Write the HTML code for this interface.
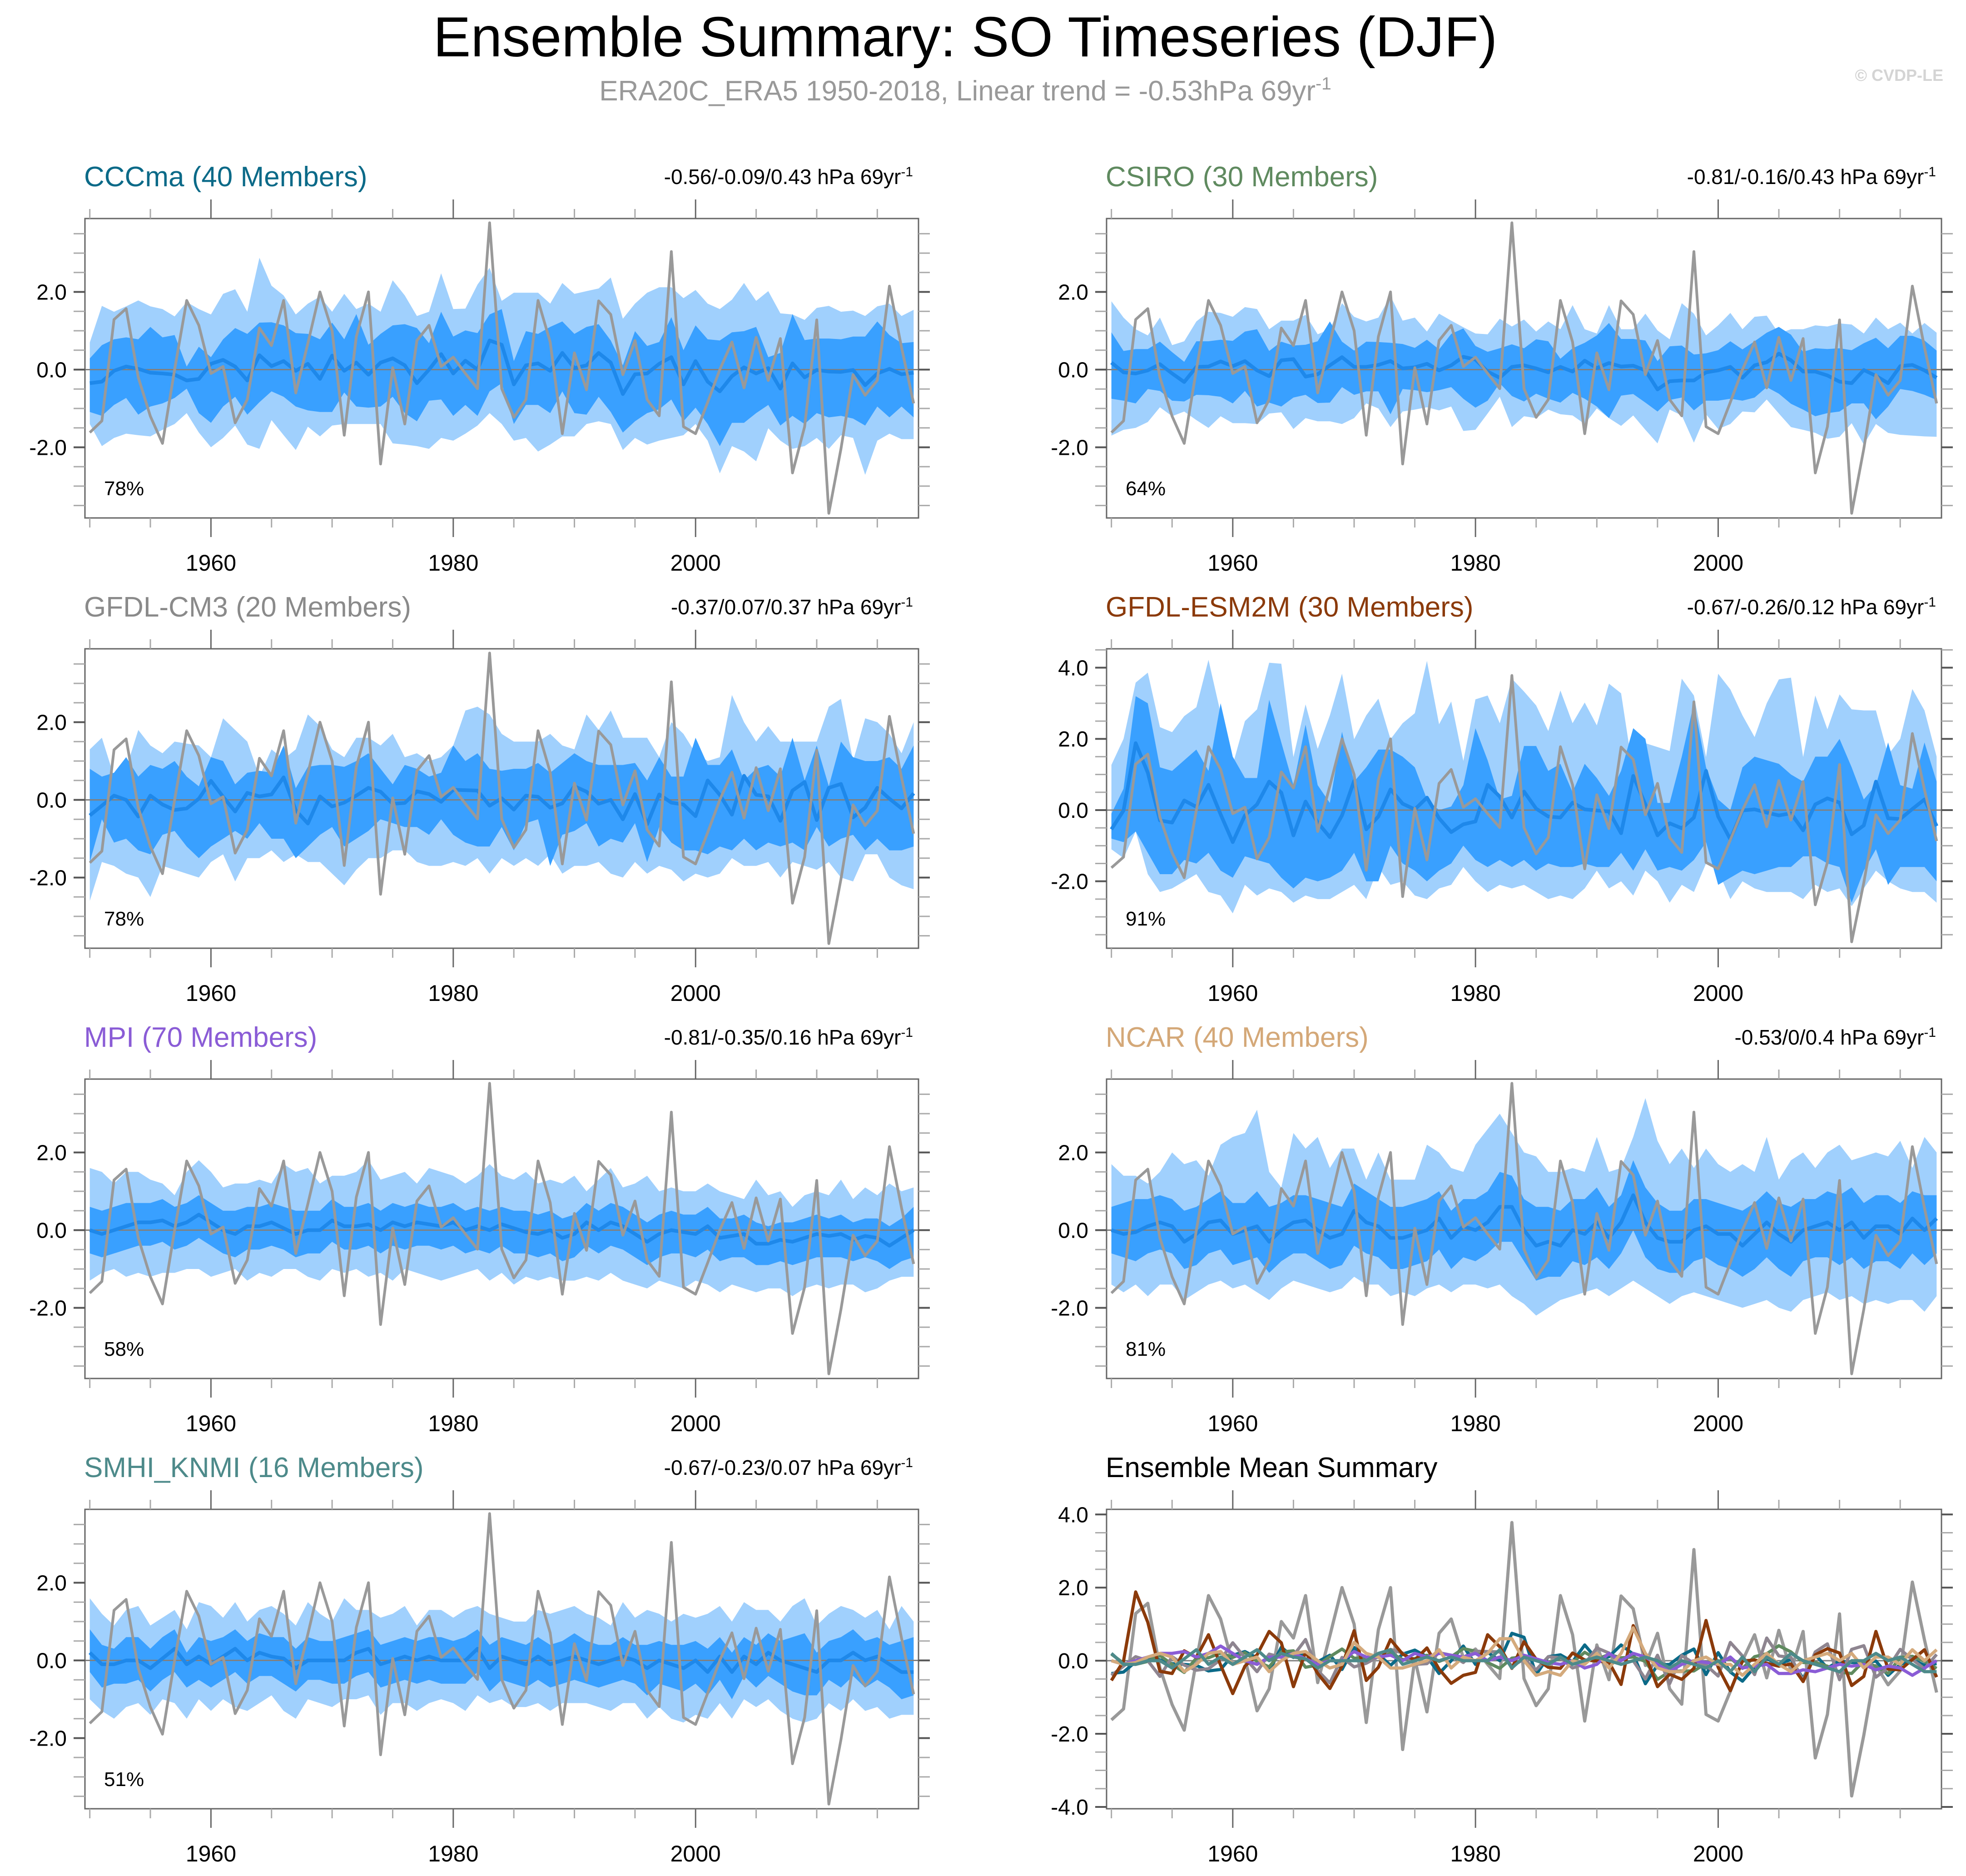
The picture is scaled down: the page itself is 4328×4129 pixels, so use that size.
<!DOCTYPE html>
<html><head><meta charset="utf-8"><style>
html,body{margin:0;padding:0;background:#fff;}
svg{display:block;font-family:"Liberation Sans",sans-serif;}
</style></head><body>
<svg id="chart" width="4328" height="4129" viewBox="0 0 4328 4129" xmlns="http://www.w3.org/2000/svg">
<text x="2125" y="124" font-size="124" text-anchor="middle" fill="#000">Ensemble Summary: SO Timeseries (DJF)</text>
<text x="2125" y="221" font-size="62" text-anchor="middle" fill="#999">ERA20C_ERA5 1950-2018, Linear trend = -0.53hPa 69yr<tspan dy="-24" font-size="39">-1</tspan></text>
<text x="4278" y="178" font-size="36" font-weight="bold" text-anchor="end" fill="#d4d4d4">© CVDP-LE</text>
</svg>
<script>
const years=[];for(let y=1950;y<=2018;y++)years.push(y);
const obs=[-1.62,-1.32,1.29,1.57,-0.2,-1.2,-1.9,0.0,1.78,1.14,-0.1,0.08,-1.37,-0.77,1.07,0.62,1.78,-0.6,0.68,2.0,1.0,-1.69,0.85,2.0,-2.43,0.05,-1.4,0.75,1.14,0.08,0.32,-0.1,-0.49,3.78,-0.49,-1.23,-0.77,1.78,0.71,-1.65,0.43,-0.52,1.77,1.42,-0.13,0.75,-0.77,-1.19,3.04,-1.47,-1.65,-0.84,0.0,0.71,-0.47,0.83,-0.28,0.8,-2.66,-1.47,1.28,-3.7,-2.04,-0.13,-0.66,-0.28,2.15,0.57,-0.87];

const cccMean=[-0.35,-0.31,-0.03,0.08,0.02,-0.08,-0.1,-0.13,-0.28,-0.24,0.15,0.25,0.08,-0.28,0.37,0.09,0.22,-0.03,0.15,-0.24,0.36,-0.03,0.18,-0.13,0.18,0.29,0.11,-0.35,0.0,0.4,-0.1,0.23,0.0,0.75,0.64,-0.38,0.11,0.16,-0.03,0.43,0.04,0.11,0.43,0.18,-0.63,-0.12,-0.1,0.15,0.32,-0.38,0.22,-0.31,-0.56,-0.17,0.06,-0.1,0.04,-0.49,0.16,-0.2,-0.01,-0.05,-0.06,-0.01,-0.4,-0.1,0.02,-0.12,-0.08];
const cccHi2=[0.7,1.64,1.49,1.63,1.78,1.63,1.56,1.37,1.74,1.56,1.42,1.95,2.07,1.49,2.88,2.16,1.91,1.42,1.7,1.88,1.49,1.95,1.56,1.7,1.49,2.3,1.91,1.38,1.49,2.48,1.56,1.57,2.19,2.62,1.77,1.98,1.98,1.98,1.7,2.23,1.95,2.02,2.09,2.37,1.31,1.7,1.98,2.12,2.12,1.84,2.05,1.7,1.56,1.8,2.23,1.77,2.02,1.45,1.42,1.28,1.59,1.64,1.49,1.52,1.38,1.63,1.7,1.38,1.54];
const cccLo2=[-1.4,-1.97,-1.76,-1.65,-1.69,-1.72,-1.55,-1.4,-1.12,-1.62,-2.0,-1.76,-1.44,-1.93,-2.04,-1.3,-1.69,-2.07,-1.47,-1.72,-1.44,-1.4,-1.4,-1.4,-1.4,-1.9,-1.93,-1.97,-2.04,-1.76,-1.83,-1.65,-1.44,-1.12,-1.4,-1.83,-1.76,-2.11,-1.93,-1.72,-1.72,-1.4,-1.33,-1.4,-2.07,-1.76,-1.93,-1.83,-1.76,-1.69,-1.4,-1.83,-2.67,-1.97,-2.11,-2.36,-1.51,-1.83,-2.04,-1.97,-1.76,-2.04,-1.69,-1.76,-2.71,-1.83,-1.65,-1.79,-1.79];
const cccHi1=[0.29,0.63,0.78,0.83,0.78,1.1,0.83,0.89,0.08,0.59,0.32,0.78,1.07,0.92,1.21,1.22,1.14,0.94,0.92,0.78,1.21,0.78,1.43,0.64,0.92,1.14,1.17,1.07,0.68,1.49,0.85,1.01,0.94,1.42,1.56,0.22,0.99,0.92,1.1,1.24,0.92,1.1,1.17,0.75,0.11,0.99,0.61,0.71,1.35,0.5,1.14,0.78,0.75,0.96,0.99,1.1,0.32,0.43,1.43,0.76,0.8,0.8,0.78,0.85,0.85,1.24,0.89,0.68,0.71];
const cccLo1=[-1.09,-1.19,-0.91,-0.73,-1.16,-0.95,-0.87,-0.73,-0.49,-1.12,-1.37,-0.95,-0.7,-1.16,-0.84,-0.56,-0.7,-0.95,-1.05,-1.09,-1.09,-0.59,-0.95,-0.98,-0.95,-0.7,-1.12,-1.33,-0.8,-0.77,-1.19,-0.91,-1.19,-0.56,-0.35,-1.4,-0.91,-0.91,-1.12,-0.56,-1.12,-1.16,-0.7,-1.09,-1.62,-1.33,-1.12,-1.02,-0.77,-1.33,-0.98,-1.4,-1.97,-1.37,-1.37,-1.12,-0.91,-1.44,-1.19,-1.4,-1.12,-1.23,-1.19,-1.26,-1.44,-0.95,-1.23,-0.95,-1.23];

const csiMean=[0.18,-0.07,-0.1,-0.02,0.14,-0.1,-0.32,0.07,0.08,0.21,0.09,0.22,-0.02,-0.17,0.24,0.27,-0.18,-0.12,0.11,0.32,0.07,0.07,0.12,0.22,0.03,0.06,0.15,-0.02,0.11,0.33,0.26,-0.05,-0.21,0.07,0.11,0.03,-0.07,0.07,-0.05,0.23,0.04,0.17,0.08,0.1,-0.02,-0.51,-0.3,-0.28,-0.28,-0.07,-0.02,0.07,-0.21,0.11,0.19,0.41,0.24,-0.05,-0.05,-0.15,-0.31,-0.35,-0.01,-0.16,-0.35,0.09,0.12,-0.02,-0.21];
const csiHi2=[1.76,1.34,1.04,0.88,1.34,0.63,0.73,1.24,1.49,1.46,1.36,1.61,1.56,1.04,1.26,1.26,1.41,0.91,1.04,1.71,1.36,1.24,1.34,1.89,1.26,1.34,0.98,1.44,1.26,1.09,0.93,0.91,1.31,1.11,1.29,0.98,1.24,1.04,1.66,1.04,0.93,1.66,1.04,1.04,1.44,1.01,0.78,1.71,1.44,0.88,1.14,1.46,1.04,1.36,1.39,0.93,1.04,1.04,1.14,1.11,1.19,1.16,0.93,1.34,1.04,1.21,0.93,1.2,0.95];
const csiLo2=[-1.7,-1.55,-1.5,-1.35,-0.97,-1.2,-1.08,-1.3,-1.5,-1.2,-1.38,-1.38,-1.4,-1.13,-1.1,-1.53,-1.25,-1.33,-1.33,-1.4,-1.25,-0.87,-1.0,-1.48,-1.08,-1.03,-0.97,-1.05,-0.95,-1.58,-1.55,-1.13,-0.7,-1.48,-1.2,-1.25,-1.03,-1.15,-1.18,-1.4,-1.0,-1.25,-1.45,-1.18,-1.55,-1.9,-1.03,-1.18,-1.88,-1.15,-1.53,-1.4,-1.08,-1.1,-0.77,-1.13,-1.48,-1.55,-1.63,-1.78,-1.73,-1.38,-1.93,-1.4,-1.63,-1.68,-1.7,-1.72,-1.73];
const csiHi1=[0.96,0.48,0.53,0.53,0.72,0.45,0.2,0.73,0.73,0.77,0.74,0.98,1.04,0.48,0.72,0.62,0.64,0.73,1.24,0.72,0.49,0.72,0.71,0.69,0.66,0.56,0.77,0.52,0.92,1.06,0.61,0.46,0.55,0.65,0.55,0.78,0.73,0.28,0.55,0.69,0.88,1.2,0.79,0.79,0.75,0.22,0.6,0.62,0.39,0.42,0.5,0.73,0.52,0.73,0.95,1.1,0.9,0.46,0.55,0.53,0.55,0.5,0.68,0.82,0.55,0.87,0.87,0.75,0.49];
const csiLo1=[-0.75,-0.8,-0.87,-0.5,-0.55,-0.8,-0.82,-0.65,-0.66,-0.7,-0.87,-0.55,-0.95,-0.85,-0.95,-0.72,-0.65,-0.86,-0.85,-0.45,-0.65,-0.56,-0.56,-1.15,-0.5,-0.53,-0.58,-0.53,-0.45,-0.75,-0.98,-0.8,-0.35,-0.68,-0.82,-0.62,-0.75,-0.85,-0.6,-0.75,-0.95,-1.25,-0.67,-0.63,-0.85,-1.08,-0.78,-0.72,-1.05,-0.8,-0.8,-0.75,-0.8,-0.72,-0.45,-0.62,-0.88,-1.03,-1.2,-1.12,-1.08,-0.87,-0.87,-1.28,-0.95,-0.5,-0.55,-0.65,-0.78];

const cm3Mean=[-0.4,-0.15,0.11,0.0,-0.43,0.11,-0.12,-0.26,-0.22,0.03,0.49,0.08,-0.3,0.18,0.09,0.14,0.58,-0.27,-0.61,0.09,-0.17,-0.07,0.11,0.31,0.21,-0.1,-0.08,0.22,0.15,-0.05,0.26,0.25,0.24,-0.15,0.04,-0.25,0.11,0.08,-0.2,-0.09,0.35,0.21,-0.1,0.0,-0.5,0.15,-0.63,0.14,-0.07,-0.12,-0.42,0.5,0.13,-0.38,0.62,0.13,0.09,-0.54,0.24,0.46,-0.52,0.31,0.41,-0.45,-0.2,0.31,0.03,-0.22,0.17];
const cm3Hi2=[1.3,1.6,0.6,0.8,1.8,1.4,1.2,1.5,1.45,1.4,1.1,2.1,1.8,1.5,0.6,1.3,1.05,1.3,2.2,1.9,1.3,1.1,1.6,1.6,1.4,1.7,1.1,1.2,1.0,1.1,1.4,2.3,2.4,2.2,1.7,1.5,1.5,1.5,1.7,1.4,1.3,2.2,1.8,2.3,1.6,1.6,1.6,1.1,2.0,1.7,1.2,1.0,1.1,2.7,2.0,1.5,1.9,1.5,1.5,1.5,1.5,2.4,2.6,1.0,2.1,2.0,1.7,1.2,2.0];
const cm3Lo2=[-2.6,-1.6,-1.7,-1.9,-2.0,-2.5,-1.7,-1.8,-1.9,-2.0,-1.6,-1.4,-2.1,-1.5,-1.5,-1.3,-1.6,-1.4,-1.6,-1.6,-1.9,-2.2,-1.8,-1.5,-1.5,-1.3,-1.3,-1.6,-1.7,-1.7,-1.6,-1.7,-1.5,-1.9,-1.5,-1.7,-1.5,-1.7,-1.4,-1.9,-1.7,-1.7,-1.6,-1.9,-2.0,-1.6,-1.9,-1.7,-1.8,-2.1,-1.9,-2.0,-1.9,-1.5,-1.7,-1.7,-1.6,-2.0,-1.6,-1.7,-1.8,-1.6,-2.0,-2.1,-1.4,-1.4,-2.0,-2.2,-2.3];
const cm3Hi1=[0.8,0.6,0.7,1.1,0.6,0.9,0.8,1.0,0.6,0.35,1.1,1.0,0.4,0.7,0.75,0.7,1.4,0.3,0.85,0.9,0.9,0.85,1.0,1.2,0.8,0.4,0.9,0.8,0.6,0.7,1.4,1.0,1.2,0.8,0.75,0.8,0.8,0.95,0.7,0.95,1.2,1.0,0.9,0.9,0.9,0.95,0.5,1.1,0.6,0.6,1.6,0.9,0.9,1.3,0.5,0.8,0.9,0.6,1.6,0.5,1.4,0.35,1.5,1.1,1.0,1.0,1.1,0.8,1.4];
const cm3Lo1=[-1.6,-0.5,-1.1,-1.0,-1.3,-1.4,-0.9,-0.8,-1.2,-1.5,-1.2,-1.0,-0.8,-1.0,-0.6,-1.0,-1.0,-1.5,-1.2,-0.9,-0.7,-1.2,-1.0,-0.8,-0.5,-0.6,-0.7,-0.7,-0.9,-0.5,-0.9,-1.1,-1.2,-1.2,-0.7,-1.3,-0.6,-0.5,-1.7,-0.9,-0.8,-0.6,-1.2,-1.0,-1.1,-0.6,-1.6,-0.7,-1.1,-1.3,-1.3,-1.4,-1.2,-1.3,-1.0,-1.3,-1.1,-1.2,-1.1,-1.3,-0.7,-1.2,-1.0,-0.9,-1.3,-1.0,-1.3,-1.3,-1.2];

const esmMean=[-0.54,-0.01,1.88,1.05,-0.29,-0.35,0.27,0.09,0.71,-0.12,-0.9,-0.15,0.16,0.8,0.49,-0.71,0.24,-0.35,-0.76,-0.15,0.82,-0.54,-0.18,0.58,0.18,0.02,0.35,-0.23,-0.62,-0.4,-0.32,0.71,0.38,-0.21,0.52,0.04,-0.18,-0.21,0.21,0.02,-0.01,-0.04,-0.65,0.96,0.16,-0.71,-0.37,-0.51,-0.21,1.1,-0.18,-0.82,-0.01,0.02,-0.07,-0.15,-0.09,-0.57,0.16,0.33,0.21,-0.68,-0.43,0.8,-0.23,-0.25,0.03,0.3,-0.45];
const esmHi2=[1.27,2.0,3.58,3.86,2.33,2.19,2.64,2.89,4.22,2.72,1.27,2.5,2.83,4.14,4.11,1.49,2.97,1.72,2.66,3.83,1.99,2.66,3.13,1.99,2.44,2.72,4.19,2.41,3.05,1.38,3.11,3.22,2.44,3.69,3.33,2.94,2.22,3.36,2.44,3.02,2.38,3.55,3.28,1.05,1.88,1.77,1.66,3.69,3.22,1.49,3.83,3.39,2.66,2.05,3.0,3.67,3.72,1.49,3.22,2.27,3.25,2.83,2.8,2.8,1.55,2.0,3.4,2.8,1.5];
const esmLo2=[-1.1,-1.35,-0.6,-1.8,-2.3,-2.2,-2.0,-1.8,-2.3,-2.4,-2.9,-2.1,-2.4,-2.2,-2.3,-2.6,-2.4,-2.5,-2.5,-2.3,-2.1,-2.5,-1.6,-2.1,-2.0,-2.4,-2.5,-2.2,-2.1,-1.6,-2.0,-2.3,-2.1,-2.2,-2.1,-2.3,-2.5,-2.4,-2.5,-2.2,-1.7,-2.2,-2.0,-2.4,-1.7,-2.0,-2.6,-2.1,-2.3,-1.5,-1.7,-2.5,-2.0,-2.2,-2.3,-2.3,-2.3,-2.5,-2.1,-2.3,-2.2,-2.7,-2.2,-1.7,-2.0,-2.2,-2.3,-2.3,-2.6];
const esmHi1=[-0.1,0.6,3.2,3.0,1.2,1.1,1.4,1.7,1.1,3.0,1.5,0.9,0.9,3.1,1.9,0.7,2.4,0.7,0.2,2.2,0.8,1.2,1.7,1.7,1.5,1.2,0.3,0.0,0.1,0.7,2.3,1.4,0.3,0.4,1.8,1.8,1.1,1.3,0.5,1.3,0.9,0.4,1.1,2.3,2.0,0.2,0.2,1.5,3.0,1.2,0.3,0.0,1.2,1.5,1.4,1.3,1.0,0.8,1.5,1.5,2.0,1.2,0.3,0.7,1.9,0.7,0.6,1.9,0.8];
const esmLo1=[-0.8,-0.9,-0.6,-1.2,-1.8,-1.8,-1.4,-1.5,-1.2,-1.7,-1.9,-1.3,-1.4,-1.5,-1.9,-2.2,-1.9,-2.0,-1.9,-1.7,-1.2,-2.0,-2.0,-1.0,-1.5,-1.7,-2.0,-1.7,-1.5,-1.0,-1.4,-1.6,-1.4,-1.6,-1.4,-1.7,-1.5,-1.6,-1.6,-1.5,-1.6,-1.6,-1.2,-1.7,-1.1,-1.7,-1.6,-1.7,-1.4,-0.9,-2.1,-1.9,-1.7,-1.8,-1.7,-1.6,-1.6,-1.3,-1.3,-1.5,-1.6,-2.6,-1.7,-1.1,-2.1,-1.6,-1.6,-1.6,-2.0];

const mpiMean=[0.0,-0.1,0.0,0.1,0.2,0.2,0.25,0.1,0.2,0.4,0.2,0.0,-0.1,0.1,0.1,0.2,0.05,-0.1,0.0,0.0,0.25,0.1,0.1,0.15,0.0,0.2,0.1,0.2,0.15,0.1,0.2,0.0,0.1,0.0,0.15,0.05,-0.05,-0.1,0.0,-0.2,-0.1,0.2,0.0,0.2,0.1,-0.1,-0.3,-0.1,0.0,-0.05,-0.1,0.1,-0.2,-0.15,-0.1,-0.35,-0.35,-0.25,-0.3,-0.2,-0.1,-0.15,-0.1,-0.25,-0.15,-0.2,-0.4,-0.2,0.0];
const mpiHi2=[1.6,1.5,1.2,1.5,1.5,1.3,1.2,0.9,1.5,1.8,1.5,1.1,1.2,1.2,1.3,1.2,1.7,1.5,1.6,1.2,1.4,1.4,1.5,1.8,1.3,1.4,1.5,1.2,1.6,1.5,1.4,1.2,1.4,1.7,1.4,1.3,1.5,1.2,1.3,1.2,1.4,1.0,1.3,1.6,1.1,1.2,1.4,1.0,1.1,1.0,1.0,1.2,1.0,0.9,0.8,1.3,0.9,1.0,0.6,0.9,1.0,0.9,1.3,0.8,1.1,0.9,1.2,1.0,1.1];
const mpiLo2=[-1.3,-1.1,-1.0,-1.2,-1.1,-1.2,-1.1,-1.1,-1.0,-1.0,-1.2,-1.1,-1.0,-1.3,-1.1,-1.2,-1.0,-1.0,-1.2,-1.3,-1.0,-1.1,-1.0,-1.2,-1.1,-1.3,-1.0,-1.1,-1.2,-1.3,-1.2,-1.1,-1.0,-1.3,-1.1,-1.4,-1.2,-1.3,-1.2,-1.3,-1.3,-1.2,-1.3,-1.1,-1.3,-1.4,-1.5,-1.3,-1.4,-1.5,-1.3,-1.4,-1.6,-1.4,-1.5,-1.6,-1.5,-1.5,-1.7,-1.5,-1.4,-1.5,-1.4,-1.4,-1.6,-1.5,-1.3,-1.2,-1.2];
const mpiHi1=[0.6,0.5,0.6,0.7,0.7,0.7,0.8,0.6,0.7,0.9,0.7,0.5,0.5,0.6,0.6,0.7,0.6,0.5,0.5,0.5,0.8,0.6,0.6,0.7,0.5,0.7,0.6,0.7,0.6,0.6,0.7,0.5,0.6,0.5,0.6,0.5,0.5,0.4,0.5,0.3,0.4,0.7,0.5,0.7,0.6,0.4,0.2,0.4,0.5,0.4,0.4,0.6,0.3,0.3,0.4,0.2,0.1,0.2,0.2,0.3,0.4,0.3,0.4,0.2,0.3,0.3,0.1,0.3,0.6];
const mpiLo1=[-0.6,-0.7,-0.6,-0.5,-0.4,-0.4,-0.3,-0.5,-0.4,-0.2,-0.4,-0.6,-0.7,-0.5,-0.5,-0.4,-0.5,-0.7,-0.6,-0.6,-0.3,-0.5,-0.5,-0.4,-0.6,-0.4,-0.5,-0.4,-0.4,-0.5,-0.4,-0.6,-0.5,-0.6,-0.4,-0.6,-0.6,-0.7,-0.6,-0.8,-0.7,-0.4,-0.6,-0.4,-0.5,-0.7,-0.9,-0.7,-0.6,-0.6,-0.7,-0.5,-0.8,-0.7,-0.7,-0.9,-0.9,-0.8,-0.9,-0.8,-0.7,-0.7,-0.7,-0.8,-0.7,-0.8,-1.0,-0.8,-0.7];

const ncaMean=[0.0,-0.1,-0.05,0.1,0.2,0.1,-0.3,-0.1,0.2,0.25,-0.1,0.0,0.1,-0.3,0.0,0.2,0.25,0.0,-0.2,-0.1,0.5,0.2,0.1,-0.2,-0.2,-0.1,0.0,0.3,-0.2,0.1,0.0,0.2,0.6,0.6,0.0,-0.4,-0.3,-0.4,0.0,-0.1,0.2,-0.2,0.2,0.9,0.2,-0.2,-0.3,-0.3,0.0,0.1,-0.1,-0.1,-0.4,-0.1,0.2,-0.1,-0.3,0.0,0.1,0.2,0.0,0.2,-0.2,0.1,0.1,-0.1,0.3,0.0,0.3];
const ncaHi2=[1.7,1.4,1.4,1.2,1.5,2.0,1.7,1.8,1.4,2.2,2.4,2.5,3.1,1.5,1.1,2.5,2.1,2.4,1.6,2.1,2.1,1.3,2.0,1.3,1.3,1.3,2.2,2.0,1.6,1.5,2.2,2.6,3.0,2.5,2.0,1.9,1.5,1.5,1.6,1.5,2.4,1.5,1.6,2.4,3.4,2.3,1.7,2.1,1.6,2.1,1.7,1.5,1.7,1.5,2.4,1.3,1.8,2.0,1.6,2.0,2.2,1.8,1.9,2.0,1.9,2.3,1.6,2.4,2.0];
const ncaLo2=[-1.4,-1.6,-1.4,-1.7,-1.4,-1.4,-1.8,-1.6,-1.4,-1.3,-1.5,-1.4,-1.6,-1.8,-1.5,-1.3,-1.4,-1.5,-1.6,-1.5,-1.2,-1.4,-1.4,-1.7,-1.6,-1.7,-1.5,-1.4,-1.6,-1.4,-1.4,-1.5,-1.4,-1.7,-1.9,-2.2,-2.0,-1.8,-1.7,-1.6,-1.5,-1.7,-1.5,-1.3,-1.5,-1.7,-1.9,-1.7,-1.6,-1.7,-1.8,-1.9,-2.0,-1.9,-1.8,-2.0,-2.1,-1.8,-1.7,-1.6,-1.8,-1.7,-1.9,-1.8,-1.9,-1.8,-1.8,-2.1,-1.7];
const ncaHi1=[0.6,0.7,0.8,0.8,0.9,0.8,0.5,0.6,0.8,1.0,0.7,0.7,1.0,0.6,0.7,0.9,0.9,0.8,0.7,0.6,1.2,1.0,0.8,0.6,0.6,0.7,0.8,1.0,0.5,0.8,0.8,1.0,1.5,1.4,0.8,0.6,0.6,0.5,0.8,0.8,1.1,0.6,0.9,1.8,1.1,0.7,0.5,0.5,0.8,0.8,0.7,0.6,0.5,0.7,1.0,0.7,0.6,0.8,0.8,1.0,0.9,1.1,0.7,0.9,0.9,0.7,1.0,0.9,0.9];
const ncaLo1=[-0.6,-0.7,-0.8,-0.6,-0.5,-0.6,-1.0,-0.9,-0.6,-0.5,-0.9,-0.8,-0.7,-1.1,-0.8,-0.6,-0.6,-0.8,-1.0,-0.9,-0.4,-0.6,-0.7,-1.0,-1.0,-0.9,-0.8,-0.5,-1.0,-0.7,-0.8,-0.6,-0.3,-0.3,-0.8,-1.3,-1.2,-1.2,-0.8,-0.9,-0.7,-1.0,-0.6,0.0,-0.7,-1.0,-1.1,-1.1,-0.8,-0.7,-0.9,-1.0,-1.2,-1.0,-0.7,-1.0,-1.2,-0.8,-0.7,-0.7,-0.9,-0.7,-1.0,-0.8,-0.8,-1.0,-0.6,-0.9,-0.6];

const smhMean=[0.2,-0.1,-0.1,0.0,0.0,-0.2,0.05,0.3,-0.1,0.1,-0.1,0.1,0.3,0.0,0.2,0.1,0.05,-0.2,0.0,0.0,0.0,0.0,0.2,0.3,-0.1,0.0,0.1,0.0,0.1,0.0,0.0,0.0,0.3,-0.2,0.1,0.0,-0.1,0.1,-0.1,0.0,0.1,0.0,-0.1,0.0,0.1,0.0,-0.2,0.0,-0.1,-0.2,0.0,-0.3,0.1,-0.3,0.1,-0.1,0.2,0.0,-0.1,-0.2,-0.3,0.0,0.0,0.2,0.0,0.1,-0.1,-0.3,-0.3];
const smhHi2=[1.6,1.2,0.9,1.3,1.4,0.9,1.1,1.3,0.8,1.5,1.4,1.1,1.5,1.0,1.3,1.4,1.2,0.9,1.5,1.2,1.0,1.6,1.3,1.3,1.1,1.2,1.4,0.9,1.3,1.3,1.1,1.3,1.4,1.2,1.1,1.0,1.0,1.3,1.2,1.3,1.4,1.2,1.1,0.9,1.5,1.1,1.3,1.2,1.0,1.2,1.1,1.2,1.4,1.0,1.5,1.3,1.3,1.0,1.4,1.6,0.9,1.2,1.4,1.3,1.1,1.3,0.8,1.4,1.0];
const smhLo2=[-1.0,-1.3,-1.5,-1.2,-1.1,-1.4,-1.0,-1.1,-1.5,-1.0,-1.3,-1.0,-1.2,-1.3,-1.1,-0.9,-1.3,-1.5,-1.0,-1.1,-1.2,-1.0,-1.0,-0.9,-1.4,-1.1,-1.1,-1.3,-1.1,-1.0,-1.1,-1.3,-0.9,-1.1,-1.0,-1.2,-1.2,-1.1,-1.3,-1.1,-1.1,-1.1,-1.2,-1.3,-1.1,-1.1,-1.5,-1.2,-1.5,-1.6,-1.4,-1.5,-1.1,-1.5,-1.0,-1.2,-1.0,-1.3,-1.5,-1.6,-1.5,-1.1,-1.3,-1.0,-1.3,-1.2,-1.5,-1.4,-1.4];
const smhHi1=[0.8,0.4,0.3,0.6,0.6,0.3,0.6,0.8,0.2,0.6,0.5,0.6,0.8,0.5,0.7,0.6,0.6,0.3,0.6,0.5,0.5,0.6,0.7,0.8,0.4,0.5,0.6,0.5,0.6,0.6,0.5,0.6,0.8,0.4,0.6,0.5,0.4,0.6,0.4,0.5,0.7,0.5,0.4,0.4,0.6,0.4,0.4,0.5,0.4,0.4,0.5,0.3,0.6,0.2,0.6,0.4,0.7,0.5,0.6,0.7,0.2,0.5,0.6,0.8,0.5,0.6,0.4,0.5,0.6];
const smhLo1=[-0.3,-0.7,-0.6,-0.6,-0.5,-0.8,-0.5,-0.3,-0.7,-0.5,-0.7,-0.5,-0.3,-0.6,-0.4,-0.4,-0.6,-0.8,-0.5,-0.5,-0.6,-0.6,-0.4,-0.3,-0.7,-0.6,-0.5,-0.6,-0.5,-0.6,-0.6,-0.6,-0.3,-0.8,-0.5,-0.6,-0.7,-0.5,-0.7,-0.6,-0.5,-0.6,-0.7,-0.6,-0.5,-0.6,-0.9,-0.6,-0.7,-0.8,-0.6,-0.9,-0.5,-1.0,-0.4,-0.7,-0.4,-0.6,-0.8,-0.9,-0.9,-0.5,-0.7,-0.4,-0.7,-0.5,-0.7,-1.0,-0.9];

const panelTitles=["CCCma (40 Members)","CSIRO (30 Members)","GFDL-CM3 (20 Members)","GFDL-ESM2M (30 Members)","MPI (70 Members)","NCAR (40 Members)","SMHI_KNMI (16 Members)","Ensemble Mean Summary"];
const trendLabels=["-0.56/-0.09/0.43 hPa 69yr","-0.81/-0.16/0.43 hPa 69yr","-0.37/0.07/0.37 hPa 69yr","-0.67/-0.26/0.12 hPa 69yr","-0.81/-0.35/0.16 hPa 69yr","-0.53/0/0.4 hPa 69yr","-0.67/-0.23/0.07 hPa 69yr",""];
const pctLabels=["78%","64%","78%","91%","58%","81%","51%",""];
const yTicksDefault=[-2,0,2];
const yTicksEsm=[-2,0,2,4];
const yTicksSum=[-4,-2,0,2,4];
const xTicks=[1960,1980,2000];

const NS="http://www.w3.org/2000/svg";
const svg=document.getElementById('chart');
function el(tag,attrs,parent){const e=document.createElementNS(NS,tag);for(const k in attrs)e.setAttribute(k,attrs[k]);(parent||svg).appendChild(e);return e;}
const colors=["#0b6a88","#5f8a5f","#8a8a8a","#8b3a0a","#8a5cd6","#d4a878","#4d8a8a"];
const lineColors=["#0b6a88","#5f8a5f","#8e8590","#8b3a0a","#8a5cd6","#d4aa7c","#4d8a8a"];
const panels=[
 {m:cccMean,h2:cccHi2,l2:cccLo2,h1:cccHi1,l1:cccLo1},
 {m:csiMean,h2:csiHi2,l2:csiLo2,h1:csiHi1,l1:csiLo1},
 {m:cm3Mean,h2:cm3Hi2,l2:cm3Lo2,h1:cm3Hi1,l1:cm3Lo1},
 {m:esmMean,h2:esmHi2,l2:esmLo2,h1:esmHi1,l1:esmLo1},
 {m:mpiMean,h2:mpiHi2,l2:mpiLo2,h1:mpiHi1,l1:mpiLo1},
 {m:ncaMean,h2:ncaHi2,l2:ncaLo2,h1:ncaHi1,l1:ncaLo1},
 {m:smhMean,h2:smhHi2,l2:smhLo2,h1:smhHi1,l1:smhLo1}
];
const rowTops=[481,1428,2375,3322];
const H=659;
for(let p=0;p<8;p++){
 const col=p%2,row=Math.floor(p/2);
 const L=col?2436:187,W=col?1838:1835,T=rowTops[row];
 let yMin=-3.82,yMax=3.89,ticks=yTicksDefault;
 if(p===3){yMin=-3.88;yMax=4.53;ticks=yTicksEsm;}
 if(p===7){yMin=-4.05;yMax=4.14;ticks=yTicksSum;}
 const xs=y=>L+(y-1949.6)/(2018.4-1949.6)*W;
 const ys=v=>T+(yMax-v)/(yMax-yMin)*H;
 const g=el('g',{});
 
 
 const t=el('text',{x:L-2,y:T-71,'font-size':62,fill:p===7?'#000':colors[p]},g);
 t.textContent=panelTitles[p];
 
 
 if(trendLabels[p]){
  const tr=el('text',{x:L+W-12,y:T-76,'font-size':46,'text-anchor':'end',fill:'#000'},g);
  tr.textContent=trendLabels[p];
  const sup=el('tspan',{dy:-17,'font-size':30},tr);sup.textContent='-1';
  
  
 }
 const clipId='clip'+p;
 const cp=el('clipPath',{id:clipId},svg);el('rect',{x:L,y:T,width:W,height:H},cp);
 const plot=el('g',{'clip-path':'url(#'+clipId+')'},g);
 if(p<7){
  const d=panels[p];
  const band=(hi,lo,fill,name)=>{
   let s='';years.forEach((y,i)=>{s+=(i?'L':'M')+xs(y).toFixed(1)+','+ys(hi[i]).toFixed(1);});
   for(let i=years.length-1;i>=0;i--)s+='L'+xs(years[i]).toFixed(1)+','+ys(lo[i]).toFixed(1);
   const b=el('path',{d:s+'Z',fill:fill},plot);
   
   
  };
  band(d.h2,d.l2,'#a0d0fd','outer-spread-band');
  band(d.h1,d.l1,'#39a0ff','inner-spread-band');
 }
 const z=el('line',{x1:L,x2:L+W,y1:ys(0),y2:ys(0),stroke:'#808080','stroke-width':3},plot);
 
 
 const line=(arr,stroke,w,name)=>{
  const pts=years.map((y,i)=>xs(y).toFixed(1)+','+ys(arr[i]).toFixed(1)).join(' ');
  const pl=el('polyline',{points:pts,fill:'none',stroke:stroke,'stroke-width':w,'stroke-linejoin':'round'},plot);
  
  
 };
 if(p<7){
  line(panels[p].m,'#1e88ea',8,'ensemble-mean-line');
  line(obs,'#999999',6,'observed-line');
  const pc=el('text',{x:L+42,y:T+H-50,'font-size':44,fill:'#000'},g);
  pc.textContent=pctLabels[p];
  
  
 } else {
  line(obs,'#999999',7,'observed-line');
  for(let k=0;k<7;k++){line(panels[k].m,lineColors[k],7,'mean-line-'+(k+1));}
 }
 const fr=el('rect',{x:L,y:T,width:W,height:H,fill:'none',stroke:'#666','stroke-width':3},g);
 
 
 for(let v=Math.ceil(yMin*2)/2;v<=yMax;v+=0.5){
  const major=ticks.indexOf(v)>=0;
  const yy=ys(v);
  el('line',{x1:L-25,x2:L,y1:yy,y2:yy,stroke:major?'#555':'#aaa','stroke-width':major?4:3},g);
  el('line',{x1:L+W,x2:L+W+25,y1:yy,y2:yy,stroke:major?'#555':'#aaa','stroke-width':major?4:3},g);
 }
 ticks.forEach(v=>{
  const tl=el('text',{x:L-40,y:ys(v)+17,'font-size':48,'text-anchor':'end',fill:'#000'},g);
  tl.textContent=v.toFixed(1);
  
  
 });
 for(let yr=1950;yr<=2015;yr+=5){
  const major=xTicks.indexOf(yr)>=0;const xx=xs(yr);const len=major?42:21;
  el('line',{x1:xx,x2:xx,y1:T-len,y2:T,stroke:major?'#666':'#aaa','stroke-width':3},g);
  el('line',{x1:xx,x2:xx,y1:T+H,y2:T+H+len,stroke:major?'#666':'#aaa','stroke-width':3},g);
 }
 xTicks.forEach(yr=>{
  const xl=el('text',{x:xs(yr),y:T+H+116,'font-size':50,'text-anchor':'middle',fill:'#000'},g);
  xl.textContent=yr;
  
  
 });
}
</script>
</body></html>
